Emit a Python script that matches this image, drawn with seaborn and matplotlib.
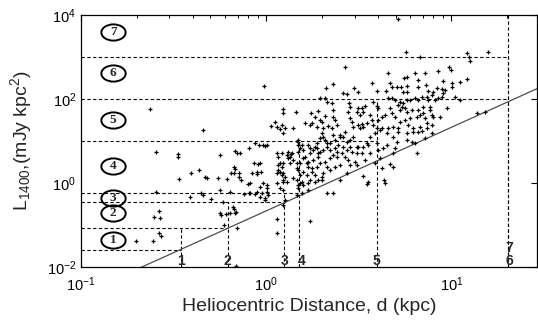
import numpy as np
import pandas as pd
import matplotlib
matplotlib.use("Agg")
import matplotlib.pyplot as plt
import seaborn as sns
from matplotlib.path import Path
from matplotlib.transforms import Affine2D
from matplotlib.ticker import LogLocator, NullLocator

# pulsar positions as log10(d / kpc), log10(L)
log_d = [
    -0.628, -0.341, -0.011, -0.593, -0.476, -0.476, -0.252, -0.167, -0.158, -0.144,
    -0.095, -0.059, -0.041, -0.015, 0.004, -0.596, -0.578, -0.574, -0.606, -0.701,
    -0.614, -0.578, -0.570, -0.470, -0.407, -0.362, -0.412, -0.350, -0.344, -0.332,
    -0.260, -0.296, -0.251, -0.236, -0.211, -0.174, -0.188, -0.173, -0.147, -0.134,
    -0.120, -0.251, -0.242, -0.218, -0.197, -0.179, -0.174, -0.164, -0.170, -0.229,
    -0.157, -0.163, -0.098, -0.194, -0.095, -0.059, -0.320, -0.167, -0.149, -0.042,
    -0.050,
    -0.086, -0.086, -0.050, -0.032, -0.077, -0.050, -0.027, -0.032, -0.068, -0.005,
    0.004, 0.004, 0.004, 0.012, -0.005, -0.015, -0.023, -0.032, -0.005, 0.049,
    0.058, 0.085, 0.093, 0.102, 0.058, 0.066, 0.075, 0.085, 0.058, 0.066,
    0.085, 0.093, 0.102, 0.112, 0.058, 0.075, 0.093, 0.102, 0.058, 0.058,
    0.237, 0.093, 0.085, 0.112, 0.133, 0.093, 0.066, 0.075, 0.093, 0.093,
    0.129, 0.120, 0.088, 0.088, 0.025, 0.072, 0.144, 0.162,
    0.120, 0.129, 0.139, 0.147, 0.166, 0.174, 0.174, 0.192, 0.201, 0.183,
    0.174, 0.183, 0.192, 0.201, 0.174, 0.210, 0.219, 0.237, 0.255, 0.273,
    0.282, 0.291, 0.309, 0.327, 0.327, 0.318, 0.300, 0.309, 0.273, 0.237,
    0.210, 0.246, 0.264, 0.282, 0.300, 0.309, 0.219, 0.228, 0.171, 0.183,
    0.174, 0.228, 0.237, 0.264, 0.273, 0.291, 0.309, 0.282, 0.255, 0.228,
    0.201, 0.228, 0.246, 0.273, 0.291, 0.318, 0.345, 0.201, 0.166, 0.147,
    0.166, 0.183, 0.174, 0.237, 0.264, 0.300, 0.228, 0.166, 0.192, 0.241,
    0.282, 0.318, 0.291, 0.300, 0.246, 0.264, 0.291, 0.318, 0.327, 0.323,
    0.363, 0.354, 0.426, 0.476, 0.417, 0.435, 0.498, 0.449, 0.453, 0.444,
    0.363, 0.363, 0.372, 0.336, 0.354, 0.381, 0.453, 0.462, 0.489, 0.498,
    0.507, 0.498, 0.471, 0.516, 0.525, 0.534, 0.543, 0.525, 0.516, 0.507,
    0.426, 0.399, 0.372, 0.345, 0.381, 0.435, 0.489, 0.363, 0.399, 0.417,
    0.435, 0.453, 0.471, 0.498, 0.453, 0.417, 0.390, 0.372, 0.345, 0.363,
    0.381, 0.408, 0.426, 0.444, 0.462, 0.489, 0.480, 0.453, 0.399, 0.372,
    0.345, 0.327, 0.399, 0.435, 0.489, 0.327, 0.363, 0.525, 0.543, 0.552,
    0.525, 0.516, 0.534, 0.543,
    0.578, 0.597, 0.605, 0.561, 0.570, 0.578, 0.605, 0.624, 0.642, 0.668,
    0.678, 0.695, 0.659, 0.678, 0.695, 0.722, 0.713, 0.732, 0.740, 0.758,
    0.776, 0.749, 0.722, 0.758, 0.776, 0.749, 0.722, 0.767, 0.794, 0.686,
    0.713, 0.659, 0.624, 0.597, 0.561, 0.588, 0.615, 0.651, 0.686, 0.713,
    0.758, 0.794, 0.597, 0.651, 0.705, 0.758, 0.561, 0.552, 0.632, 0.605,
    0.695, 0.686, 0.785, 0.615, 0.588, 0.668, 0.686, 0.624, 0.636, 0.642,
    0.573, 0.597, 0.660, 0.669, 0.678, 0.647, 0.705, 0.726, 0.737, 0.758,
    0.762, 0.746, 0.758, 0.710, 0.753, 0.785,
    0.803, 0.821, 0.857, 0.929, 0.953, 0.988, 0.996, 1.001, 1.046, 1.082,
    0.863, 0.902, 0.947, 0.965, 0.821, 0.875, 0.923, 1.001, 0.830, 1.082,
    1.096, 1.103, 1.198, 0.803, 0.821, 0.839, 0.866, 0.875, 0.893, 0.884,
    0.848, 0.821, 0.830, 0.857, 0.893, 0.938, 0.974, 0.911, 0.929, 0.956,
    1.019, 1.046, 0.830, 0.866, 0.893, 0.812, 0.848, 0.884, 0.902, 0.866,
    0.947, 0.803, 0.821, 0.839, 0.893, 0.857, 0.812, 1.136, 1.181,
]
log_L = [
    1.762, 1.262, 2.310, 0.745, 0.690, 0.610, 0.667, 0.769, 0.707, 0.721,
    0.826, 0.945, 0.905, 0.905, 0.905, -0.214, -0.660, -0.826, -0.802, -1.374,
    -1.374, -1.198, -1.262, 0.088, 0.245, 0.310, -0.326, -0.231, -0.286, 0.150,
    0.126, -0.388, -0.167, -0.460, 0.088, 0.381, 0.245, 0.245, 0.150, 0.071,
    -0.262, -0.707, -0.762, -0.738, -0.707, -0.564, -0.619, -0.683, -0.721, -1.000,
    -1.080, -1.970, -0.031, -0.207, -0.231, -0.262, 0.112, 0.326, 0.245, 0.452,
    0.214,
    -0.007, -0.245, -0.207, -0.088, 0.231, 0.269, 0.269, 0.469, 0.483, 0.881,
    -0.048, -0.126, -0.207, -0.286, -0.364, -0.007, -0.245, -0.326, -0.405, 1.460,
    1.340, 1.381, 1.183, 1.302, 0.707, 0.626, 0.469, 0.388, 0.231, 0.310,
    0.190, 0.071, 0.150, 0.031, -0.007, -0.126, -0.167, -0.405, -0.864, -1.198,
    -0.898, -0.524, 0.707, 0.667, 0.690, 0.469, 0.429, 0.269, 0.231, 0.031,
    0.469, 0.588, 1.755, 1.674, 1.357, 1.279, 1.302, 1.698,
    0.745, 0.626, 0.707, 0.548, 0.469, 1.024, 0.905, 0.905, 0.786, 0.469,
    0.310, 0.190, 0.031, -0.048, -0.048, 0.626, 0.469, 0.707, 0.786, 0.826,
    0.707, 0.745, 0.786, 0.864, 0.945, 1.024, 1.183, 1.302, 1.340, 1.381,
    1.421, 0.269, 0.190, 0.071, 0.150, 0.231, 0.190, -0.007, 0.983, 0.826,
    0.745, 0.905, 0.826, 0.864, 0.945, 1.064, 1.102, 0.626, 0.548, 0.507,
    0.588, 0.388, 0.350, 0.388, 0.469, 0.507, 0.588, 0.269, 0.350, 0.112,
    0.071, -0.007, -0.126, 0.071, 0.031, 0.071, -0.167, -0.286, -0.245, 1.660,
    1.714, 1.602, 1.500, 1.460, 1.436, 1.564, 2.017, 2.017, 1.936, 2.255,
    2.350, 1.898, 2.770, 2.255, 2.150, 2.112, 2.174, 1.912, 1.817, 1.698,
    1.738, 1.579, 1.500, 1.357, 1.302, 1.381, 1.540, 1.460, 1.698, 1.779,
    1.619, 1.381, 1.340, 1.779, 1.698, 1.833, 1.421, 1.340, 1.405, 1.302,
    1.221, 1.102, 1.024, 0.945, 0.745, 0.786, 0.864, 1.143, 1.143, 1.102,
    0.983, 1.024, 1.102, 0.864, 0.864, 0.864, 0.905, 0.826, 0.786, 0.667,
    0.626, 0.707, 0.626, 0.548, 0.745, 0.707, 0.507, 0.429, 0.429, 0.388,
    0.310, 0.388, 0.071, 0.231, 0.429, -0.245, -0.245, 0.167, -0.031, 0.017,
    0.864, 0.707, 0.548, 0.945,
    1.936, 1.833, 1.779, 1.619, 1.500, 1.381, 1.500, 1.579, 1.619, 1.779,
    1.660, 1.579, 2.017, 2.017, 1.976, 1.936, 1.857, 1.817, 1.898, 1.976,
    1.976, 1.779, 1.738, 1.698, 1.540, 1.500, 1.460, 1.381, 1.302, 1.340,
    1.302, 1.302, 1.302, 1.302, 1.102, 1.183, 1.262, 1.183, 1.102, 1.221,
    1.183, 1.221, 0.945, 0.905, 0.983, 1.024, 0.707, 0.905, 0.826, 0.786,
    0.826, 0.707, 0.983, 0.588, 0.469, 0.445, 0.374, 0.350, 0.071, -0.007,
    2.388, 2.198, 2.626, 2.373, 2.278, 2.190, 2.278, 2.278, 2.174, 2.310,
    2.174, 2.493, 2.517, 3.905, 3.126, 1.738,
    2.626, 2.452, 2.612, 2.674, 2.436, 2.769, 2.690, 2.374, 2.412, 2.469,
    2.333, 2.174, 2.231, 2.214, 2.293, 2.198, 2.255, 2.293, 2.990, 3.102,
    2.990, 2.898, 3.112, 2.017, 1.976, 2.055, 2.055, 1.976, 2.095, 1.817,
    1.817, 1.738, 1.619, 1.540, 1.619, 1.579, 1.779, 1.976, 2.017, 2.136,
    2.055, 1.976, 1.340, 1.302, 1.381, 1.579, 1.660, 1.738, 1.579, 1.421,
    2.055, 0.945, 1.221, 1.238, 1.183, 1.064, 0.707, 1.660, 1.683,
]

# survey sensitivity line L = S d^2 (end points)
line_d = [0.213, 29.3]
line_L = [0.01, 180.0]

# luminosity bands: lower bound of each band and the distance limit of each band
band_names = ["1", "2", "3", "4", "5", "6", "7"]
band_L = [0.026, 0.083, 0.347, 0.587, 10.0, 100.0, 1000.0]
band_d = [0.346, 0.625, 1.25, 1.50, 3.96, 20.2, 20.2]

# where the circled band numbers sit
circle_d = [0.149] * 7
circle_L = [0.044, 0.19, 0.432, 2.57, 31.6, 423.0, 3980.0]

# where the distance-limit numbers sit under the vertical lines
limit_d = [0.345, 0.615, 1.25, 1.56, 3.94, 20.6, 20.6]
limit_L = [0.0139, 0.0139, 0.0139, 0.0139, 0.0139, 0.0139, 0.0285]

x_lim = (0.1, 29.0)
y_lim = (1e-2, 1e4)

sns.set_style("white")
plt.rcParams["font.family"] = ["Liberation Sans", "DejaVu Sans"]
plt.rcParams["mathtext.fontset"] = "custom"
plt.rcParams["mathtext.rm"] = "Liberation Sans"
plt.rcParams["mathtext.it"] = "Liberation Sans:italic"
plt.rcParams["mathtext.default"] = "regular"

fig = plt.figure(figsize=(5.38, 3.21), dpi=100)
ax = fig.add_axes([0.1506, 0.1682, 0.8476, 0.785])
ax.set_xscale("log")
ax.set_yscale("log")

pulsars = pd.DataFrame({"d": 10 ** np.array(log_d), "L": 10 ** np.array(log_L)})
sns.scatterplot(data=pulsars, x="d", y="L", marker="+", s=10, color="black",
                linewidth=0.9, legend=False, ax=ax, zorder=3)

sensitivity = pd.DataFrame({"d": line_d, "L": line_L})
sns.lineplot(data=sensitivity, x="d", y="L", color="0.3", lw=0.9, ax=ax, zorder=2)

dash = dict(color="black", lw=0.8, ls=(0, (3, 2.2)), zorder=1)
for i in range(len(band_L)):
    ax.plot([x_lim[0], band_d[i]], [band_L[i], band_L[i]], **dash)
    top = band_L[i + 1] if i + 1 < len(band_L) else y_lim[1]
    ax.plot([band_d[i], band_d[i]], [y_lim[0], top], **dash)

# elliptical outline marker for the band numbers
ellipse = Path.unit_circle().transformed(Affine2D().scale(1.5, 1.0))
ax.plot(circle_d, circle_L, ls="none", marker=ellipse, markersize=17.5,
        mfc="none", mec="black", mew=1.4, zorder=4)
for name, x, y in zip(band_names, circle_d, circle_L):
    ax.text(x, y, name, ha="center", va="center", fontsize=9.5,
            fontweight="bold", family="Liberation Serif", zorder=5)
for name, x, y in zip(band_names, limit_d, limit_L):
    ax.text(x, y, name, ha="center", va="center", fontsize=10,
            fontweight="bold", zorder=5)

ax.set_xlim(*x_lim)
ax.set_ylim(*y_lim)
ax.yaxis.set_major_locator(LogLocator(base=100))
ax.yaxis.set_minor_locator(NullLocator())
ax.tick_params(which="both", direction="in", top=True, right=True,
               labelsize=10.5, colors="black")
ax.tick_params(axis="x", which="major", pad=6)
ax.tick_params(which="major", length=4, width=0.8)
ax.tick_params(which="minor", length=2.5, width=0.7)
for sp in ax.spines.values():
    sp.set_color("black")
    sp.set_linewidth(0.9)

ax.set_xlabel("Heliocentric Distance, d (kpc)", fontsize=14, labelpad=3)
ax.set_ylabel(r"L$_{1400}$,(mJy kpc$^2$)", fontsize=14, labelpad=9)

fig.savefig("out.png", dpi=100)
